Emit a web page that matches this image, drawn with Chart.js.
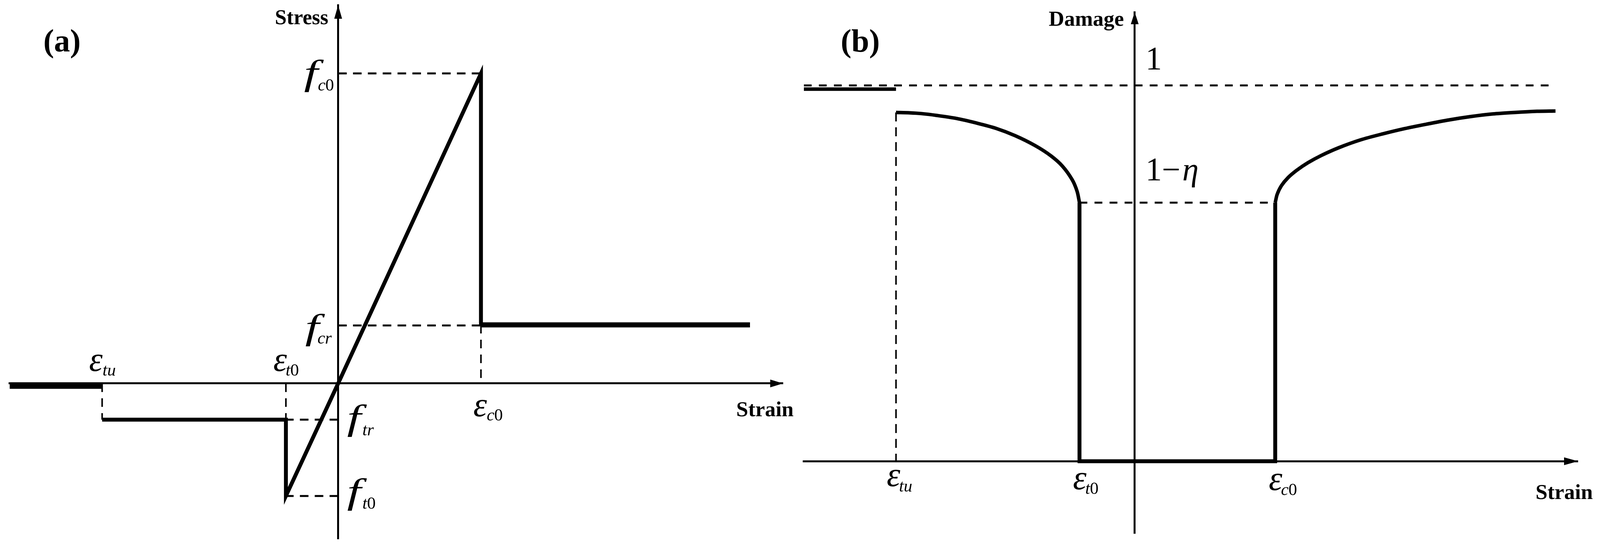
<!DOCTYPE html>
<html>
<head>
<meta charset="utf-8">
<style>
html,body{margin:0;padding:0;background:#fff;overflow:hidden}
canvas{position:absolute;top:0;display:block}
</style>
<script src="https://cdn.jsdelivr.net/npm/chart.js@4/dist/chart.umd.min.js"></script>
</head>
<body>
<canvas id="a"></canvas>
<canvas id="b"></canvas>
<script>
// ---------- Panel (a): strain normalised to eps_c0, stress normalised to f_c0
const eps_c0 = 1, eps_t0 = -0.366, eps_tu = -1.653;
const f_c0 = 1, f_cr = 0.189, f_tr = -0.117, f_t0 = -0.363;
const stressEndStrain = 2.884;
const tailStartStrain = -2.301, tailStress = -0.008;
const stressCurveStrain = [eps_tu, eps_t0, eps_t0, 0, eps_c0, eps_c0];
const stressCurveStress = [f_tr, f_tr, f_t0, 0, f_c0, f_cr];
const residualStrain_a = [eps_c0, stressEndStrain];
const residualStress_a = [f_cr, f_cr];
const stressTailStrain = [tailStartStrain, eps_tu];
const stressTailStress = [tailStress, tailStress];
const stressStrainTicks = [eps_tu, eps_t0, eps_c0];
const stressTicks = [f_t0, f_tr, f_cr, f_c0];

// ---------- Panel (b): strain normalised to eps_c0, damage normalised to 1
const d_eps_tu = -1.699, d_eps_t0 = -0.393, d_eps_c0 = 1;
const damageOne = 1, damageOneMinusEta = 0.688;
const tensionStrain = [-1.699,-1.601,-1.519,-1.407,-1.268,-1.128,-0.989,-0.850,-0.710,-0.598,-0.514,-0.445,-0.410,-0.393];
const tensionDamage = [0.928,0.927,0.925,0.920,0.912,0.900,0.886,0.866,0.840,0.813,0.785,0.749,0.718,0.688];
const compressionStrain = [1.000,1.014,1.044,1.090,1.153,1.232,1.325,1.451,1.607,1.765,1.921,2.079,2.235,2.391,2.549,2.705,2.863,2.995];
const compressionDamage = [0.688,0.710,0.733,0.754,0.774,0.794,0.813,0.834,0.855,0.871,0.885,0.897,0.908,0.917,0.924,0.928,0.931,0.932];
const residualStrain = [-2.355, d_eps_tu];
const residualDamage = [0.990, 0.990];
const damageBaseStrain = [d_eps_t0, d_eps_t0, d_eps_c0, d_eps_c0];
const damageBaseDamage = [damageOneMinusEta, 0, 0, damageOneMinusEta];
const damageStrainTicks = [d_eps_tu, d_eps_t0, d_eps_c0];
const damageTicks = [0, damageOneMinusEta, damageOne];

// ---------- page geometry: reference is 4168 wide, the window may be narrower
const W = window.innerWidth || 4168, H = 1406, SX = W / 4168;
const half = Math.round(W / 2);
for (const [id, left] of [['a', 0], ['b', half]]) {
  const el = document.getElementById(id);
  el.width = half; el.height = H; el.style.left = left + 'px';
  el.style.width = half + 'px'; el.style.height = H + 'px';
}

// ---------- helpers
const pts = (xs, ys) => xs.map((x, i) => ({x, y: ys[i]}));
const solid = (data, borderWidth, extra) => Object.assign({
  data, borderColor:'#000', backgroundColor:'#000', borderWidth, showLine:true, pointRadius:0,
  fill:false, tension:0, borderCapStyle:'butt', borderJoinStyle:'miter'
}, extra || {});
const dashed = (data, borderWidth, on, off) => solid(data, borderWidth, {borderDash:[on, off]});

const SERIF = '"Liberation Serif"';
function text(ctx, str, x, y, font, stretch) {
  ctx.save();
  ctx.font = font; ctx.fillStyle = '#000'; ctx.textAlign = 'left'; ctx.textBaseline = 'alphabetic';
  ctx.translate(x * SX, y);
  ctx.scale(stretch || 1, 1);
  ctx.fillText(str, 0, 0);
  ctx.restore();
}
function symbol(ctx, base, x, y, size, sub, subX, subY, subSize, stretch) {
  text(ctx, base, x, y, 'italic ' + size + 'px ' + SERIF, stretch);
  let cx = subX;
  for (const ch of sub) {
    const f = (/[0-9]/.test(ch) ? '' : 'italic ') + subSize + 'px ' + SERIF;
    text(ctx, ch, cx, subY, f);
    ctx.font = f;
    cx += ctx.measureText(ch).width;
  }
}
function arrows(ctx, chart, hx, hy, lenX, lenY) {
  const {x, y} = chart.scales;
  const y0 = y.getPixelForValue(0), x0 = x.getPixelForValue(0);
  ctx.fillStyle = '#000';
  ctx.beginPath(); ctx.moveTo(x.right, y0); ctx.lineTo(x.right - lenX, y0 - hx); ctx.lineTo(x.right - lenX, y0 + hx); ctx.closePath(); ctx.fill();
  ctx.beginPath(); ctx.moveTo(x0, y.top); ctx.lineTo(x0 - hy, y.top + lenY); ctx.lineTo(x0 + hy, y.top + lenY); ctx.closePath(); ctx.fill();
}
function options(xMin, xMax, yMin, yMax, padding, xTicks, yTicks) {
  const tick = {display:false, autoSkip:false};
  const axis = (min, max, pos, vals) => ({
    type:'linear', min, max, position:pos,
    grid:{display:false}, border:{display:true, width:5, color:'#000'}, ticks:tick,
    afterBuildTicks:s => { s.ticks = vals.map(value => ({value})); }
  });
  return {
    responsive:false, animation:false, devicePixelRatio:1,
    layout:{padding},
    plugins:{legend:{display:false}, tooltip:{enabled:false}, title:{display:false}},
    scales:{x:axis(xMin, xMax, {y:0}, xTicks), y:axis(yMin, yMax, {x:0}, yTicks)}
  };
}

// ---------- Chart (a)
new Chart(document.getElementById('a'), {
  type:'scatter',
  data:{datasets:[
    dashed(pts([0, eps_c0],[f_c0, f_c0]), 5, 22, 16),
    dashed(pts([0, eps_c0],[f_cr*0.99, f_cr*0.99]), 5, 22, 16),
    dashed(pts([eps_c0, eps_c0],[f_cr, 0]), 4, 22, 16),
    dashed(pts([eps_tu, eps_tu],[0, f_tr]), 4, 22, 16),
    dashed(pts([eps_t0, eps_t0],[0, f_tr]), 4, 22, 16),
    dashed(pts([0, eps_t0],[f_tr, f_tr]), 5, 22, 16),
    dashed(pts([0, eps_t0],[f_t0, f_t0]), 5, 22, 16),
    solid(pts(stressTailStrain, stressTailStress), 15),
    solid(pts(residualStrain_a, residualStress_a), 13),
    solid(pts(stressCurveStrain, stressCurveStress), 10)
  ]},
  options:options(-2.301, 3.116, -0.5013, 1.2204, {left:25*SX, right:44*SX, top:13, bottom:26}, stressStrainTicks, stressTicks),
  plugins:[{id:'labelsA', afterDraw(c){
    const ctx = c.ctx;
    arrows(ctx, c, 10, 10, 33, 35);
    text(ctx, '(a)', 113, 132, 'bold 82px ' + SERIF);
    text(ctx, 'Stress', 716, 62, 'bold 54px ' + SERIF);
    text(ctx, 'Strain', 1918, 1066, 'bold 55px ' + SERIF);
    symbol(ctx, 'f', 792, 217, 92, 'c0', 828, 232, 44, 1.4);
    symbol(ctx, 'f', 795, 868, 92, 'cr', 827, 880, 44, 1.4);
    symbol(ctx, 'f', 904, 1100, 92, 'tr', 944, 1115, 44, 1.4);
    symbol(ctx, 'f', 904, 1289, 92, 't0', 944, 1303, 44, 1.4);
    symbol(ctx, 'ε', 232, 950, 88, 'tu', 267, 962, 44);
    symbol(ctx, 'ε', 712, 950, 88, 't0', 744, 962, 44);
    symbol(ctx, 'ε', 1233, 1066, 88, 'c0', 1268, 1077, 44);
  }}]
});

// ---------- Chart (b)
new Chart(document.getElementById('b'), {
  type:'scatter',
  data:{datasets:[
    dashed(pts([-2.355, 2.990],[damageOne, damageOne]), 5, 20, 18.5),
    dashed(pts([d_eps_t0, d_eps_c0],[damageOneMinusEta, damageOneMinusEta]), 5, 20, 18.5),
    dashed(pts([d_eps_tu, d_eps_tu],[tensionDamage[0], 0]), 4, 23, 15),
    solid(pts(residualStrain, residualDamage), 9),
    solid(pts(tensionStrain, tensionDamage), 9, {tension:0.3}),
    solid(pts(compressionStrain, compressionDamage), 9, {tension:0.3}),
    solid(pts(damageBaseStrain, damageBaseDamage), 10)
  ]},
  options:options(-2.355, 3.156, -0.192, 1.195, {left:10*SX, right:57*SX, top:31, bottom:40}, damageStrainTicks, damageTicks),
  plugins:[{id:'labelsB', afterDraw(c){
    const ctx = c.ctx;
    arrows(ctx, c, 10, 10, 36, 31);
    text(ctx, '(b)', 106, 132, 'bold 82px ' + SERIF);
    text(ctx, 'Damage', 648, 66, 'bold 55px ' + SERIF);
    text(ctx, 'Strain', 1916, 1278, 'bold 55px ' + SERIF);
    text(ctx, '1', 900, 178, '84px ' + SERIF);
    text(ctx, '1−', 900, 462, '84px ' + SERIF);
    text(ctx, 'η', 996, 462, 'italic 84px ' + SERIF);
    symbol(ctx, 'ε', 226, 1245, 88, 'tu', 258, 1259, 44);
    symbol(ctx, 'ε', 711, 1253, 88, 't0', 743, 1265, 44);
    symbol(ctx, 'ε', 1221, 1255, 88, 'c0', 1253, 1268, 44);
  }}]
});
</script>
</body>
</html>
